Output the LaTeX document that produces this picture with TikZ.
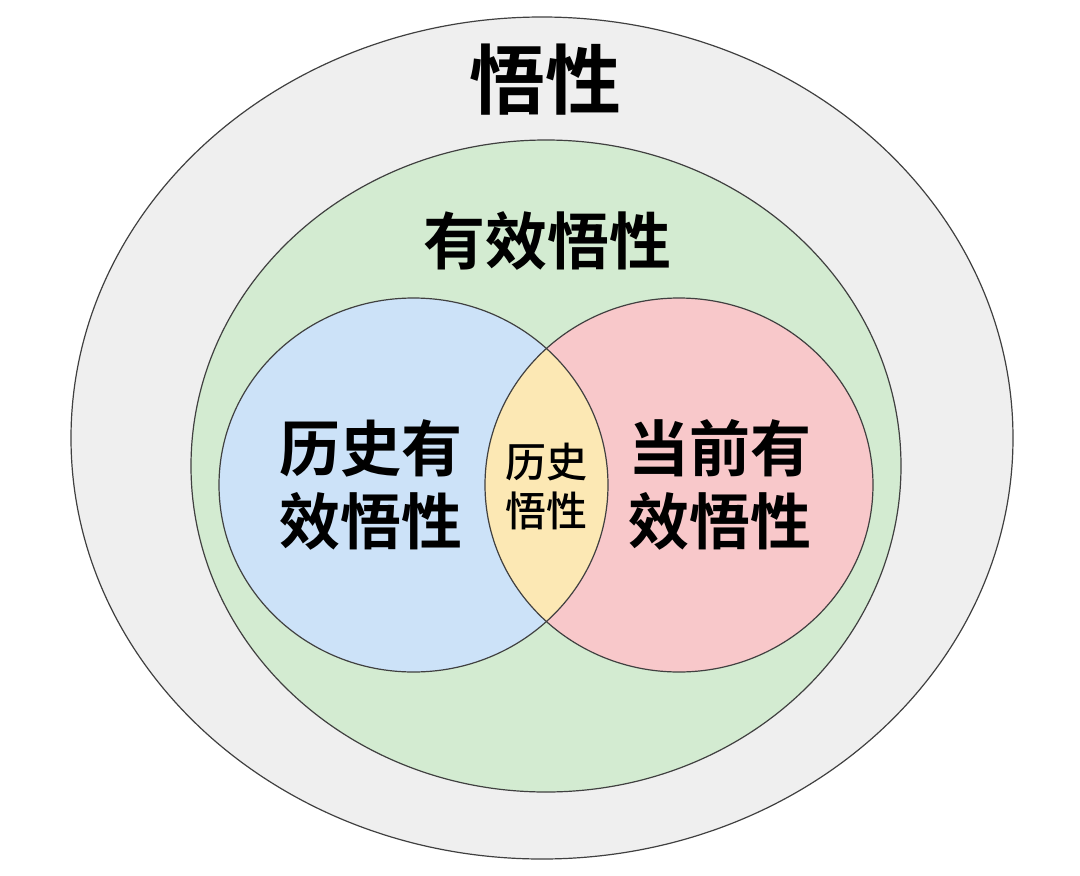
\documentclass[tikz,border=0pt]{standalone}
\usepackage{fontspec}
\newfontfamily\cjk{Noto Sans CJK SC}[BoldFont={Noto Sans CJK SC Bold}]
\newfontfamily\cjkm{Noto Sans CJK SC Medium}
\begin{document}
\begin{tikzpicture}[x=1pt,y=-1pt,
  ring/.style={draw=black!75, line width=1.2pt},
  lbl/.style={font=\cjk\bfseries, text=black, align=center, inner sep=0pt}]
\fill[white] (0,0) rectangle (1080,876);
\useasboundingbox (0,0) rectangle (1080,876);
\definecolor{outerc}{HTML}{EFEFEF}
\definecolor{greenc}{HTML}{D3EBD1}
\definecolor{bluec}{HTML}{CCE2F8}
\definecolor{redc}{HTML}{F8C8CA}
\definecolor{yellowc}{HTML}{FCE8B4}
% outer
\draw[ring, fill=outerc] (542,438) ellipse [x radius=471pt, y radius=421pt];
% green
\draw[ring, fill=greenc] (546,466) ellipse [x radius=355pt, y radius=326pt];
% blue and red
\fill[bluec] (413.5,485) ellipse [x radius=194.5pt, y radius=187pt];
\fill[redc] (679,485) ellipse [x radius=194pt, y radius=187pt];
\begin{scope}
  \clip (413.5,485) ellipse [x radius=194.5pt, y radius=187pt];
  \fill[yellowc] (679,485) ellipse [x radius=194pt, y radius=187pt];
\end{scope}
\draw[ring] (413.5,485) ellipse [x radius=194.5pt, y radius=187pt];
\draw[ring] (679,485) ellipse [x radius=194pt, y radius=187pt];
% labels
\node[lbl, font=\cjk\bfseries\fontsize{76}{80}\selectfont] (wuxing) at (545,80) {悟性};
\node[lbl, font=\cjk\bfseries\fontsize{62}{66}\selectfont] (youxiao) at (547,241) {有效悟性};
\node[lbl, font=\cjk\bfseries\fontsize{61}{73}\selectfont] (lishiyx) at (371,485) {历史有\\效悟性};
\node[lbl, font=\cjk\bfseries\fontsize{61}{73}\selectfont] (dangqian) at (720,485) {当前有\\效悟性};
\node[lbl, font=\cjkm\fontsize{41}{49}\selectfont] (lishi) at (546,486) {历史\\悟性};
\end{tikzpicture}
\end{document}
